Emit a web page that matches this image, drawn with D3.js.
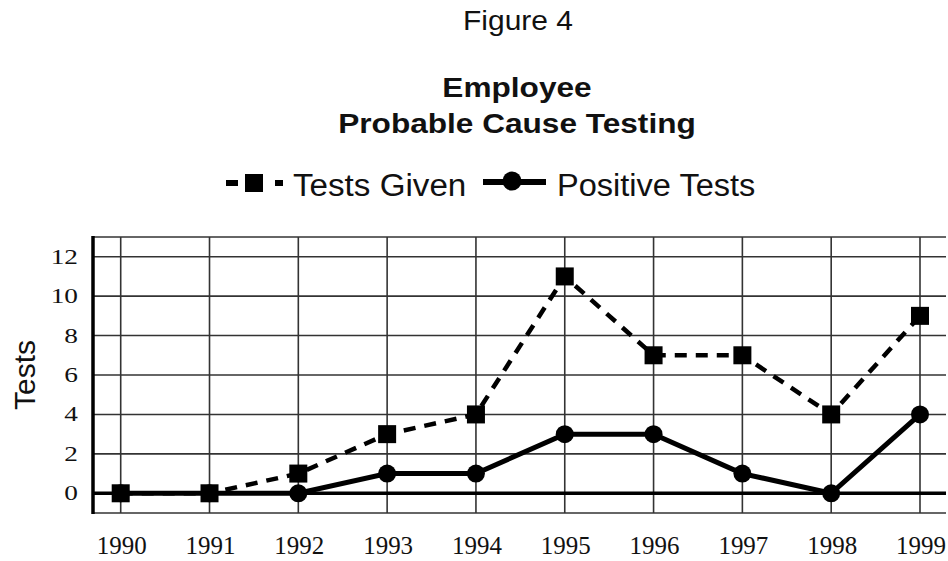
<!DOCTYPE html>
<html>
<head>
<meta charset="utf-8">
<script src="https://cdn.jsdelivr.net/npm/d3@7"></script>
<style>
  body { margin: 0; background: #fff; }
  svg text { fill: #111; }
</style>
</head>
<body>
<div id="main-diagram"></div>
<script>
// data
const years = [1990, 1991, 1992, 1993, 1994, 1995, 1996, 1997, 1998, 1999]
const testsGiven = [0, 0, 1, 3, 4, 11, 7, 7, 4, 9]
const positiveTests = [0, 0, 0, 1, 1, 3, 3, 1, 0, 4]
const yTicks = [0, 2, 4, 6, 8, 10, 12]
const gridRows = [-1, 2, 4, 6, 8, 10, 12, 13]

const width = 948
const height = 561
const plot = { left: 92, right: 946, top: 237, bottom: 513 }

const svg = d3.select('#main-diagram')
    .append('svg')
    .attr('width', width)
    .attr('height', height)

const x = d3.scaleLinear().domain([1990, 1999]).range([120.7, 920])
const y = d3.scaleLinear().domain([-1, 13]).range([plot.bottom, plot.top])

// stretch text horizontally (the scan is wider than it is tall)
function stretch(sel, k) {
    sel.each(function () {
        const w = this.getComputedTextLength()
        d3.select(this).attr('textLength', w * k).attr('lengthAdjust', 'spacingAndGlyphs')
    })
}

// titles
svg.append('text')
    .attr('x', 518).attr('y', 30)
    .attr('text-anchor', 'middle')
    .style('font-family', 'Arial, "Liberation Sans", sans-serif')
    .style('font-size', '28px')
    .text('Figure 4')
    .call(stretch, 1.07)

const titleLines = ['Employee', 'Probable Cause Testing']
svg.selectAll('.title')
    .data(titleLines)
    .enter()
    .append('text')
    .attr('class', 'title')
    .attr('x', 517)
    .attr('y', (d, i) => 97 + i * 36)
    .attr('text-anchor', 'middle')
    .style('font-family', 'Arial, "Liberation Sans", sans-serif')
    .style('font-size', '27px')
    .style('font-weight', 'bold')
    .text(d => d)
    .call(stretch, 1.17)

// grid
const g = svg.append('g')
g.selectAll('.hgrid')
    .data(gridRows)
    .enter()
    .append('line')
    .attr('x1', plot.left).attr('x2', plot.right)
    .attr('y1', d => y(d)).attr('y2', d => y(d))
    .attr('stroke', '#333').attr('stroke-width', 1.6)

g.selectAll('.vgrid')
    .data(years)
    .enter()
    .append('line')
    .attr('x1', d => x(d)).attr('x2', d => x(d))
    .attr('y1', plot.top).attr('y2', plot.bottom)
    .attr('stroke', '#333').attr('stroke-width', 1.6)

// zero line and left axis
g.append('line')
    .attr('x1', plot.left).attr('x2', plot.right)
    .attr('y1', y(0)).attr('y2', y(0))
    .attr('stroke', '#000').attr('stroke-width', 3.5)
g.append('line')
    .attr('x1', 93).attr('x2', 93)
    .attr('y1', plot.top - 1).attr('y2', plot.bottom + 1)
    .attr('stroke', '#000').attr('stroke-width', 3.5)

// y tick labels
svg.selectAll('.ylab')
    .data(yTicks)
    .enter()
    .append('text')
    .attr('x', 78)
    .attr('y', d => y(d) + 7)
    .attr('text-anchor', 'end')
    .style('font-family', '"Liberation Serif", "Times New Roman", serif')
    .style('font-size', '21px')
    .text(d => d)
    .call(stretch, 1.3)

// x tick labels
svg.selectAll('.xlab')
    .data(years)
    .enter()
    .append('text')
    .attr('x', d => x(d) + 1)
    .attr('y', 554)
    .attr('text-anchor', 'middle')
    .style('font-family', '"Liberation Serif", "Times New Roman", serif')
    .style('font-size', '26px')
    .text(d => d)
    .call(stretch, 0.96)

// y axis title
svg.append('text')
    .attr('transform', 'translate(35,375) rotate(-90)')
    .attr('text-anchor', 'middle')
    .style('font-family', 'Arial, "Liberation Sans", sans-serif')
    .style('font-size', '30px')
    .text('Tests')

// series
const line = d3.line()
    .x((d, i) => x(years[i]))
    .y(d => y(d))

svg.append('path')
    .datum(testsGiven)
    .attr('d', line)
    .attr('fill', 'none')
    .attr('stroke', '#000')
    .attr('stroke-width', 4.5)
    .attr('stroke-dasharray', '12,9')

svg.append('path')
    .datum(positiveTests)
    .attr('d', line)
    .attr('fill', 'none')
    .attr('stroke', '#000')
    .attr('stroke-width', 5)

svg.selectAll('.sq')
    .data(testsGiven)
    .enter()
    .append('rect')
    .attr('x', (d, i) => x(years[i]) - 9)
    .attr('y', d => y(d) - 9)
    .attr('width', 18).attr('height', 18)
    .attr('fill', '#000')

svg.selectAll('.dot')
    .data(positiveTests)
    .enter()
    .append('circle')
    .attr('cx', (d, i) => x(years[i]))
    .attr('cy', d => y(d))
    .attr('r', 9)
    .attr('fill', '#000')

// legend
const legend = svg.append('g')
legend.append('line')
    .attr('x1', 226).attr('x2', 284)
    .attr('y1', 183).attr('y2', 183)
    .attr('stroke', '#000').attr('stroke-width', 6)
    .attr('stroke-dasharray', '12,37,8')
legend.append('rect')
    .attr('x', 245).attr('y', 174)
    .attr('width', 18).attr('height', 18)
    .attr('fill', '#000')
legend.append('text')
    .attr('x', 293).attr('y', 196)
    .style('font-family', 'Arial, "Liberation Sans", sans-serif')
    .style('font-size', '31px')
    .text('Tests Given')
    .call(stretch, 1.07)

legend.append('line')
    .attr('x1', 483).attr('x2', 546)
    .attr('y1', 182).attr('y2', 182)
    .attr('stroke', '#000').attr('stroke-width', 6)
legend.append('circle')
    .attr('cx', 512).attr('cy', 181)
    .attr('r', 9.5)
    .attr('fill', '#000')
legend.append('text')
    .attr('x', 557).attr('y', 196)
    .style('font-family', 'Arial, "Liberation Sans", sans-serif')
    .style('font-size', '31px')
    .text('Positive Tests')
    .call(stretch, 1.05)
</script>
</body>
</html>
